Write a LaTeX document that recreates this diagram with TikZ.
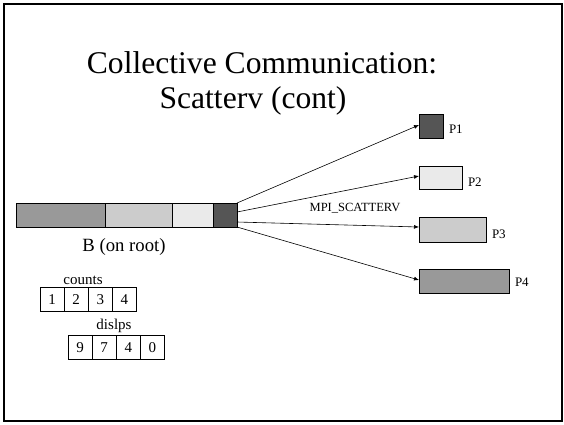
\documentclass[tikz,border=0pt]{standalone}
\usepackage{fontspec}
\setmainfont{Liberation Serif}
\usetikzlibrary{arrows.meta}
\definecolor{gA}{HTML}{999999}
\definecolor{gB}{HTML}{CCCCCC}
\definecolor{gC}{HTML}{EAEAEA}
\definecolor{gD}{HTML}{555555}
\tikzset{
  seg/.style={draw=black, line width=0.8pt},
  cellbox/.style={draw=black, line width=0.6pt, minimum width=23.5pt, minimum height=24pt, inner sep=0pt, anchor=north west, font=\fontsize{15}{15}\selectfont},
  plabel/.style={font=\fontsize{13}{13}\selectfont, anchor=west, inner sep=0pt},
  arr/.style={-{Latex[length=5pt,width=4pt]}, line width=0.6pt},
}
\begin{document}
\begin{tikzpicture}[x=1pt,y=-1pt]
\useasboundingbox (0,0) rectangle (564,424);
\draw[line width=2pt] (3.5,3.5) rectangle (561.5,421);
% title
\node[font=\fontsize{31.6}{32}\selectfont, inner sep=0pt] (t1) at (262,63) {Collective Communication:};
\node[font=\fontsize{31.6}{32}\selectfont, inner sep=0pt] (t2) at (253,101) {Scatterv (cont)};
% bar B
\path[seg, fill=gA] (16,203) rectangle (105,227);
\path[seg, fill=gB] (105,203) rectangle (172,227);
\path[seg, fill=gC] (172,203) rectangle (213,227);
\path[seg, fill=gD] (213,203) rectangle (237,227);
\coordinate (s1) at (237,203);
\coordinate (s2) at (237,212);
\coordinate (s3) at (237,222);
\coordinate (s4) at (237,227);
\node[font=\fontsize{18.7}{19}\selectfont, inner sep=0pt] (blab) at (124,247) {B (on root)};
% P boxes
\node[seg, fill=gD, anchor=north west, minimum width=24pt, minimum height=24pt, inner sep=0pt] (p1) at (419,114) {};
\node[seg, fill=gC, anchor=north west, minimum width=43pt, minimum height=23pt, inner sep=0pt] (p2) at (419,166) {};
\node[seg, fill=gB, anchor=north west, minimum width=67pt, minimum height=25pt, inner sep=0pt] (p3) at (419,217) {};
\node[seg, fill=gA, anchor=north west, minimum width=90pt, minimum height=24pt, inner sep=0pt] (p4) at (419,269) {};
\node[plabel] (l1) at ([xshift=5pt,yshift=-3pt]p1.east) {P1};
\node[plabel] (l2) at ([xshift=5pt,yshift=-4pt]p2.east) {P2};
\node[plabel] (l3) at ([xshift=5pt,yshift=-4pt]p3.east) {P3};
\node[plabel] (l4) at ([xshift=5pt,yshift=-1pt]p4.east) {P4};
% arrows
\draw[arr] (s1) -- (p1.west |- 0,125);
\draw[arr] (s2) -- (p2.west |- 0,176);
\draw[arr] (s3) -- (p3.west |- 0,227);
\draw[arr] (s4) -- (p4.west |- 0,280);
\node[font=\fontsize{12.5}{13}\selectfont, inner sep=0pt] (mpi) at (355,208) {MPI\_SCATTERV};
% counts
\node[font=\fontsize{15}{15}\selectfont, inner sep=0pt] (clab) at (83,280) {counts};
\node[cellbox] (c1) at (40,287) {1};
\node[cellbox] (c2) at (c1.north east) {2};
\node[cellbox] (c3) at (c2.north east) {3};
\node[cellbox] (c4) at (c3.north east) {4};
% dislps
\node[font=\fontsize{15}{15}\selectfont, inner sep=0pt] (dlab) at (114,326) {dislps};
\node[cellbox] (d1) at (68,335) {9};
\node[cellbox] (d2) at (d1.north east) {7};
\node[cellbox] (d3) at (d2.north east) {4};
\node[cellbox] (d4) at (d3.north east) {0};
\end{tikzpicture}
\end{document}
